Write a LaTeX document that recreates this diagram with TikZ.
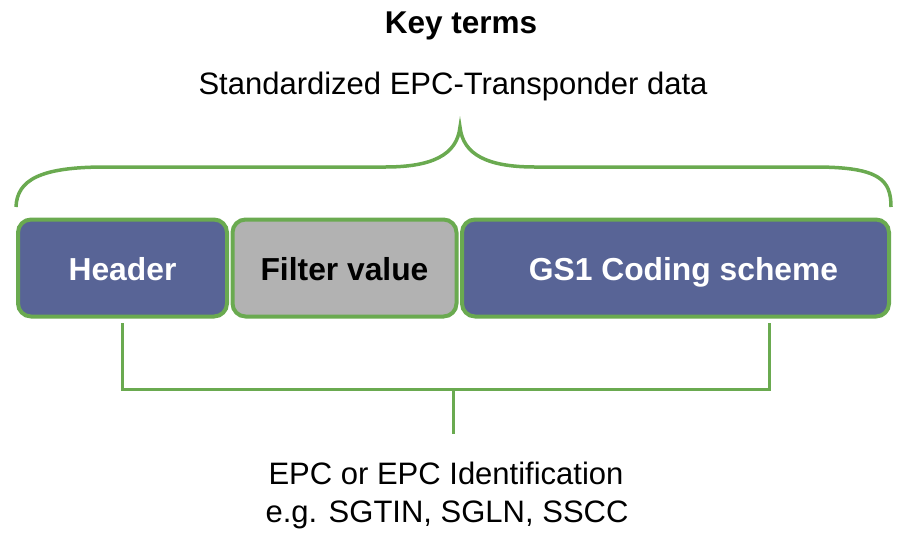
\documentclass[tikz,border=0pt]{standalone}
\usepackage{fontspec}
\setmainfont{Liberation Sans}
\definecolor{grn}{RGB}{106,170,80}
\definecolor{boxblue}{RGB}{88,100,150}
\definecolor{boxgray}{RGB}{178,178,178}
\begin{document}
\begin{tikzpicture}[x=1pt,y=-1pt,
  field/.style={draw=grn, line width=4pt, rounded corners=13pt, minimum height=97pt, inner sep=0pt,
    text height=25pt, text depth=0pt, font=\fontsize{31.8}{36}\selectfont\bfseries},
  bluefield/.style={field, fill=boxblue, text=white},
  grayfield/.style={field, fill=boxgray, text=black},
  fieldtext/.style={inner sep=0pt, text height=25pt, text depth=0pt,
    font=\fontsize{31.8}{36}\selectfont\bfseries, text=white},
  label/.style={font=\fontsize{31}{37}\selectfont, align=center, inner sep=0pt},
  brace/.style={draw=grn, line width=3.5pt},
  bracket/.style={draw=grn, line width=3pt}]
\useasboundingbox (0,0) rectangle (904,550);
% title texts
\node[label, font=\fontsize{31.5}{37}\selectfont\bfseries, anchor=base] (title) at (461,33) {Key terms};
\node[label, anchor=base] (std) at (453,94) {Standardized EPC-Transponder data};
% fields
\node[bluefield, minimum width=209pt] (hdr) at (122.5,268) {Header};
\node[grayfield, minimum width=224pt] (flt) at (344.5,268) {Filter value};
\node[bluefield, minimum width=427pt] (gs1) at (675.5,268) {};
\node[fieldtext] (gs1t) at ([xshift=8pt]gs1.center) {GS1 Coding scheme};
% brace
\coordinate (bl) at (hdr.north west |- 0,207);
\coordinate (br) at (gs1.north east |- 0,207);
\coordinate (tip) at (460,127);
\draw[brace] (bl) .. controls (17,180) and (40,167) .. (105,167) -- (385,167)
  .. controls (432,167) and (457,155) .. (tip)
  .. controls (463,155) and (488,167) .. (535,167) -- (815,167)
  .. controls (880,167) and (891,180) .. (br);
% bracket
\coordinate (lt) at (122,323);
\coordinate (rt) at (769,323);
\coordinate (lb) at (122,389);
\coordinate (rb) at (769,389);
\coordinate (sm) at (453,389);
\coordinate (sb) at (453,434);
\draw[bracket] (lt) -- (lb) -- (rb) -- (rt);
\draw[bracket] (sm) -- (sb);
% bottom text
\node[label, anchor=base] (epc) at (446,484) {EPC or EPC Identification};
\node[label, anchor=base] (eg) at (447,522) {e.g. SGTIN, SGLN, SSCC};
\end{tikzpicture}
\end{document}
